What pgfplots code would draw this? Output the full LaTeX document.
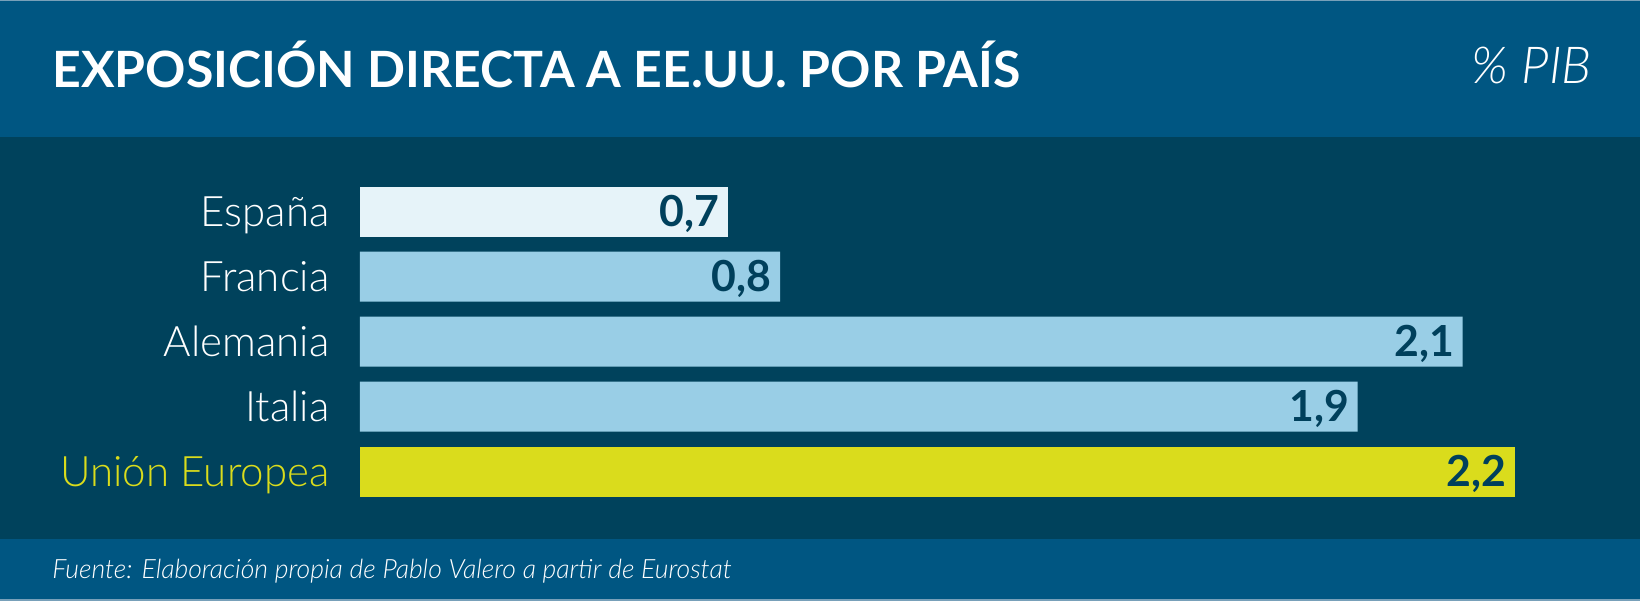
\documentclass[border=0pt]{standalone}
\usepackage{fontspec}
\setmainfont{Lato}
\newfontfamily\lightfont{Lato Light}
\usepackage{pgfplots}
\pgfplotsset{compat=1.18}
\definecolor{hdr}{RGB}{0,86,130}
\definecolor{dark}{RGB}{0,66,92}
\definecolor{barlight}{RGB}{230,243,249}
\definecolor{barblue}{RGB}{153,206,230}
\definecolor{ueyel}{RGB}{218,220,28}
\definecolor{valtxt}{RGB}{0,64,92}
\definecolor{edge}{RGB}{120,160,185}

\begin{document}
\begin{tikzpicture}[x=0.5pt,y=0.5pt]
% background bands, in pixels of a 1640x601 page
\fill[hdr] (0,464) rectangle (1640,601);
\fill[dark] (0,62.5) rectangle (1640,464);
\fill[hdr] (0,2) rectangle (1640,62.5);
\fill[edge] (0,0) rectangle (1640,2);
\fill[edge] (0,600) rectangle (1640,601);

\node[anchor=base west, inner sep=0pt, text=white,
      font=\bfseries\fontsize{25}{25}\selectfont] at (52,513)
      {EXPOSICIÓN DIRECTA A EE.UU. POR PAÍS};
\node[anchor=base east, inner sep=0pt, text=white,
      font=\lightfont\itshape\fontsize{25.5}{25.5}\selectfont] at (1592,517)
      {\% PIB};
\node[anchor=base west, inner sep=0pt, text=white,
      font=\lightfont\itshape\fontsize{13.3}{13.3}\selectfont] at (52,23)
      {Fuente: Elaboración propia de Pablo Valero a partir de Eurostat};

\begin{axis}[
    at={(180pt,48.5pt)}, anchor=south west,
    scale only axis,
    width=630pt, height=162.5pt,
    xmin=0, xmax=2.4,
    ymin=-0.5, ymax=4.5,
    y dir=reverse,
    xbar, bar width=25pt, bar shift=0pt,
    axis line style={draw=none},
    tick style={draw=none},
    xtick=\empty,
    ytick={0,1,2,3,4},
    yticklabels={España,Francia,Alemania,Italia,\textcolor{ueyel}{Unión Europea}},
    yticklabel style={font=\lightfont\fontsize{21}{21}\selectfont, text=white,
        anchor=base east, inner sep=0pt, xshift=-10.8pt, yshift=-7.5pt},
    point meta=explicit symbolic,
    nodes near coords,
    nodes near coords style={anchor=base east, inner sep=0pt, xshift=-4pt, yshift=-7.7pt,
        text=valtxt, font=\bfseries\fontsize{21.4}{21.4}\selectfont},
]
\addplot[fill=barlight, draw=none] coordinates {(0.7,0) [0,7]};
\addplot[fill=barblue, draw=none] coordinates {(0.8,1) [0,8] (2.1,2) [2,1] (1.9,3) [1,9]};
\addplot[fill=ueyel, draw=none] coordinates {(2.2,4) [2,2]};
\end{axis}

\pgfresetboundingbox
\useasboundingbox (0,0) rectangle (1640,601);
\end{tikzpicture}
\end{document}
